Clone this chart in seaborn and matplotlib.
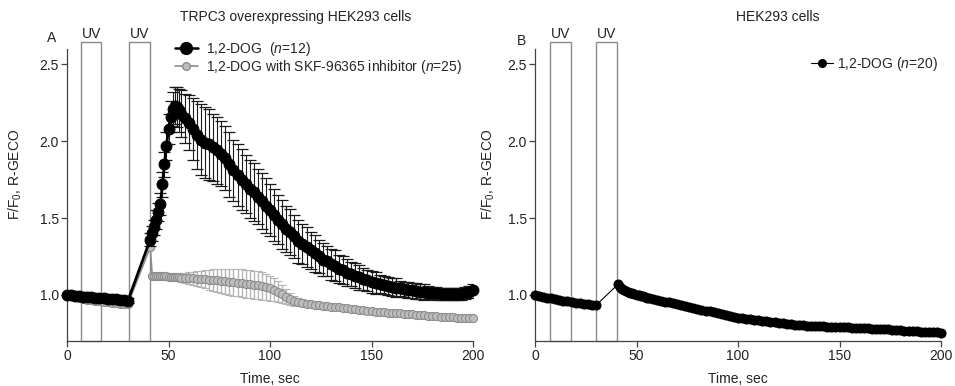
import numpy as np
import pandas as pd
import matplotlib
matplotlib.use('Agg')
import matplotlib.pyplot as plt
from matplotlib.patches import Rectangle
from matplotlib.lines import Line2D
import seaborn as sns

sns.set_style('ticks')
plt.rcParams['font.family'] = ['Liberation Sans', 'DejaVu Sans']
plt.rcParams['mathtext.fontset'] = 'custom'
plt.rcParams['mathtext.rm'] = 'Liberation Sans'
plt.rcParams['mathtext.it'] = 'Liberation Sans:italic'

# %% sampling times (sec): before UV, fast rise, slow phase
time = list(range(0, 31, 2)) + list(range(41, 57)) + list(range(58, 201, 2))

# TRPC3 overexpressing cells, 1,2-DOG (n=12)
dog_mean = [1.000, 0.997, 0.994, 0.991, 0.989, 0.986, 0.984, 0.982, 0.980, 0.978, 0.976, 0.974, 0.972, 0.969, 0.966, 0.962,
            1.36, 1.40, 1.44, 1.49, 1.54, 1.59, 1.72, 1.85, 1.97, 2.08, 2.16, 2.21, 2.23, 2.22, 2.20, 2.18,
            2.15, 2.12, 2.08, 2.04, 2.01, 1.99, 1.98, 1.96, 1.94, 1.92,
            1.89, 1.85, 1.81, 1.78, 1.75, 1.72, 1.69, 1.67, 1.64, 1.61,
            1.58, 1.55, 1.52, 1.49, 1.46, 1.43, 1.41, 1.38, 1.35, 1.33,
            1.31, 1.29, 1.27, 1.25, 1.23, 1.22, 1.20, 1.19, 1.17, 1.16,
            1.145, 1.135, 1.125, 1.115, 1.105, 1.095, 1.085, 1.078, 1.071, 1.064,
            1.058, 1.052, 1.047, 1.042, 1.037, 1.033, 1.029, 1.025, 1.021, 1.018,
            1.015, 1.012, 1.010, 1.008, 1.006, 1.005, 1.004, 1.004, 1.007, 1.012,
            1.020, 1.030]
dog_sem = [0.010, 0.010, 0.011, 0.011, 0.012, 0.012, 0.012, 0.013, 0.013, 0.013, 0.014, 0.014, 0.014, 0.015, 0.015, 0.015,
           0.04, 0.05, 0.05, 0.06, 0.06, 0.07, 0.08, 0.08, 0.09, 0.10, 0.10, 0.11, 0.12, 0.13, 0.14, 0.15,
           0.16, 0.18, 0.20, 0.22, 0.23, 0.23, 0.23, 0.22, 0.22, 0.21,
           0.21, 0.21, 0.20, 0.20, 0.20, 0.19, 0.19, 0.19, 0.18, 0.18,
           0.18, 0.17, 0.17, 0.16, 0.16, 0.15, 0.15, 0.14, 0.14, 0.13,
           0.13, 0.12, 0.12, 0.11, 0.11, 0.10, 0.10, 0.10, 0.09, 0.09,
           0.09, 0.08, 0.08, 0.08, 0.07, 0.07, 0.07, 0.07, 0.06, 0.06,
           0.06, 0.06, 0.06, 0.05, 0.05, 0.05, 0.05, 0.05, 0.05, 0.05,
           0.04, 0.04, 0.04, 0.04, 0.04, 0.04, 0.04, 0.04, 0.04, 0.04,
           0.04, 0.04]

# TRPC3 overexpressing cells, 1,2-DOG + SKF-96365 (n=25)
skf_mean = [0.995, 0.990, 0.985, 0.980, 0.975, 0.970, 0.966, 0.962, 0.958, 0.955, 0.952, 0.949, 0.946, 0.944, 0.942, 0.940,
            1.31, 1.125, 1.125, 1.125, 1.124, 1.123, 1.122, 1.121, 1.120, 1.119, 1.118, 1.117, 1.116, 1.115, 1.114, 1.113,
            1.112, 1.110, 1.108, 1.106, 1.104, 1.102, 1.100, 1.097, 1.094, 1.091,
            1.088, 1.085, 1.082, 1.079, 1.076, 1.073, 1.070, 1.066, 1.062, 1.057,
            1.051, 1.044, 1.034, 1.020, 1.004, 0.988, 0.974, 0.963, 0.955, 0.949,
            0.944, 0.940, 0.936, 0.933, 0.930, 0.927, 0.924, 0.921, 0.918, 0.915,
            0.912, 0.909, 0.906, 0.903, 0.900, 0.897, 0.894, 0.891, 0.889, 0.887,
            0.885, 0.883, 0.881, 0.879, 0.877, 0.875, 0.873, 0.871, 0.869, 0.867,
            0.865, 0.863, 0.861, 0.859, 0.857, 0.855, 0.853, 0.851, 0.850, 0.849,
            0.848, 0.847]
skf_sem = [0.008, 0.008, 0.009, 0.009, 0.009, 0.010, 0.010, 0.010, 0.010, 0.011, 0.011, 0.011, 0.011, 0.012, 0.012, 0.012,
           0.02, 0.010, 0.010, 0.010, 0.010, 0.010, 0.012, 0.013, 0.014, 0.015, 0.016, 0.018, 0.020, 0.022, 0.025, 0.028,
           0.032, 0.036, 0.041, 0.047, 0.053, 0.059, 0.065, 0.070, 0.075, 0.079,
           0.082, 0.085, 0.087, 0.089, 0.090, 0.091, 0.092, 0.092, 0.091, 0.089,
           0.086, 0.082, 0.076, 0.068, 0.058, 0.048, 0.040, 0.033, 0.027, 0.023,
           0.020, 0.018, 0.016, 0.015, 0.014, 0.013, 0.013, 0.012, 0.012, 0.012,
           0.011, 0.011, 0.011, 0.011, 0.010, 0.010, 0.010, 0.010, 0.010, 0.010,
           0.010, 0.010, 0.010, 0.010, 0.010, 0.010, 0.010, 0.010, 0.010, 0.010,
           0.010, 0.010, 0.010, 0.010, 0.010, 0.010, 0.010, 0.010, 0.010, 0.010,
           0.010, 0.010]

# plain HEK293 cells, 1,2-DOG (n=20)
hek_mean = [1.000, 0.993, 0.987, 0.982, 0.977, 0.972, 0.967, 0.962, 0.958, 0.954, 0.950, 0.946, 0.942, 0.938, 0.935, 0.932,
            1.070, 1.050, 1.040, 1.033, 1.027, 1.020, 1.015, 1.010, 1.005, 1.000, 0.997, 0.993, 0.990, 0.986, 0.983, 0.980,
            0.974, 0.968, 0.962, 0.957, 0.951, 0.945, 0.939, 0.933, 0.927, 0.921,
            0.915, 0.910, 0.904, 0.898, 0.892, 0.886, 0.880, 0.874, 0.868, 0.862,
            0.857, 0.852, 0.848, 0.844, 0.840, 0.837, 0.834, 0.831, 0.828, 0.825,
            0.822, 0.819, 0.816, 0.813, 0.810, 0.807, 0.805, 0.803, 0.800, 0.799,
            0.797, 0.796, 0.795, 0.793, 0.792, 0.791, 0.790, 0.789, 0.788, 0.787,
            0.786, 0.785, 0.784, 0.782, 0.781, 0.780, 0.778, 0.776, 0.775, 0.773,
            0.771, 0.770, 0.768, 0.766, 0.764, 0.762, 0.760, 0.759, 0.758, 0.757,
            0.756, 0.755]

# UV pulses (start, end) in sec
uv_A = [(6.9, 16.9), (30.5, 40.9)]
uv_B = [(7.5, 17.7), (30.2, 40.2)]

df = pd.DataFrame({'time': time, 'dog': dog_mean, 'dog_sem': dog_sem,
                   'skf': skf_mean, 'skf_sem': skf_sem, 'hek': hek_mean})

W, H = 955, 386
FS = 10
txt_c = '#222222'
fig = plt.figure(figsize=(W / 100, H / 100), dpi=100)
axA = fig.add_axes([67 / W, 1 - 341 / H, 406 / W, 292 / H])
axB = fig.add_axes([535 / W, 1 - 341 / H, 406 / W, 292 / H])

spine_c = '#444444'
for ax in [axA, axB]:
    ax.set_xlim(0, 200)
    ax.set_ylim(0.7, 2.6)
    ax.set_xticks([0, 50, 100, 150, 200])
    ax.set_yticks([1.0, 1.5, 2.0, 2.5])
    ax.set_yticklabels(['1.0', '1.5', '2.0', '2.5'])
    sns.despine(ax=ax)
    for s in ['left', 'bottom']:
        ax.spines[s].set_color(spine_c)
        ax.spines[s].set_linewidth(0.9)
    ax.tick_params(length=4, width=0.9, color=spine_c, labelsize=FS, pad=2, labelcolor=txt_c)
    ax.set_xlabel('Time, sec', fontsize=FS, color=txt_c)
    ax.set_ylabel('F/F$_0$, R-GECO', fontsize=FS, color=txt_c)
    ax.xaxis.set_label_coords(0.5, -0.105)
    ax.set_facecolor('none')

axA.yaxis.set_label_coords(-0.106, 0.57)
axB.yaxis.set_label_coords(-0.094, 0.57)

# UV boxes
for ax, boxes in [(axA, uv_A), (axB, uv_B)]:
    for a, b in boxes:
        ax.add_patch(Rectangle((a, 0.7), b - a, 2.645 - 0.7, fill=False, ec='#8a8a8a', lw=1.0,
                               clip_on=False, zorder=1))
        ax.text((a + b) / 2, 2.655, 'UV', ha='center', va='bottom', fontsize=FS, color=txt_c)

# --- panel A
axA.errorbar(df['time'], df['skf'], yerr=df['skf_sem'], fmt='none', ecolor='#b5b5b5',
             elinewidth=1.0, capsize=3, capthick=0.8, zorder=2)
sns.lineplot(data=df, x='time', y='skf', ax=axA, color='#8c8c8c', lw=1.2, marker='o', markersize=5.8,
             markerfacecolor='#bdbdbd', markeredgecolor='#8c8c8c', markeredgewidth=0.8,
             estimator=None, sort=False, zorder=3, clip_on=False)
axA.errorbar(df['time'], df['dog'], yerr=df['dog_sem'], fmt='none', ecolor='#1a1a1a',
             elinewidth=0.8, capsize=4.5, capthick=0.9, zorder=4)
sns.lineplot(data=df, x='time', y='dog', ax=axA, color='black', lw=2.0, marker='o', markersize=7.8,
             markerfacecolor='black', markeredgecolor='black', estimator=None, sort=False,
             zorder=5, clip_on=False)

hA = [Line2D([], [], color='black', lw=1.8, marker='o', markersize=8.5),
      Line2D([], [], color='#8c8c8c', lw=1.2, marker='o', markersize=5.5,
             markerfacecolor='#bdbdbd', markeredgecolor='#8c8c8c')]
axA.legend(hA, ['1,2-DOG  ($n$=12)', '1,2-DOG with SKF-96365 inhibitor ($n$=25)'],
           loc='upper left', bbox_to_anchor=(175 / W, 1 - 40 / H), bbox_transform=fig.transFigure,
           frameon=False, fontsize=FS, handlelength=1.65, handletextpad=0.55, labelspacing=0.0,
           borderpad=0, borderaxespad=0)

# --- panel B
sns.lineplot(data=df, x='time', y='hek', ax=axB, color='black', lw=0.8, marker='o', markersize=6.5,
             markerfacecolor='black', markeredgecolor='black', estimator=None, sort=False,
             zorder=5, clip_on=False)
hB = [Line2D([], [], color='black', lw=0.8, marker='o', markersize=5.5)]
axB.legend(hB, ['1,2-DOG ($n$=20)'], loc='upper left', bbox_to_anchor=(811 / W, 1 - 55 / H),
           bbox_transform=fig.transFigure, frameon=False, fontsize=FS, handlelength=1.6,
           handletextpad=0.3, borderpad=0, borderaxespad=0)

# titles and panel letters
fig.text(295.5 / W, 1 - 16.5 / H, 'TRPC3 overexpressing HEK293 cells', ha='center', va='center',
         fontsize=FS, color=txt_c)
fig.text(777.5 / W, 1 - 17 / H, 'HEK293 cells', ha='center', va='center', fontsize=FS, color=txt_c)
fig.text(52 / W, 1 - 38 / H, 'A', ha='center', va='center', fontsize=FS, color=txt_c)
fig.text(521 / W, 1 - 41 / H, 'B', ha='center', va='center', fontsize=FS, color=txt_c)

fig.savefig('out.png', dpi=100, facecolor='white')
